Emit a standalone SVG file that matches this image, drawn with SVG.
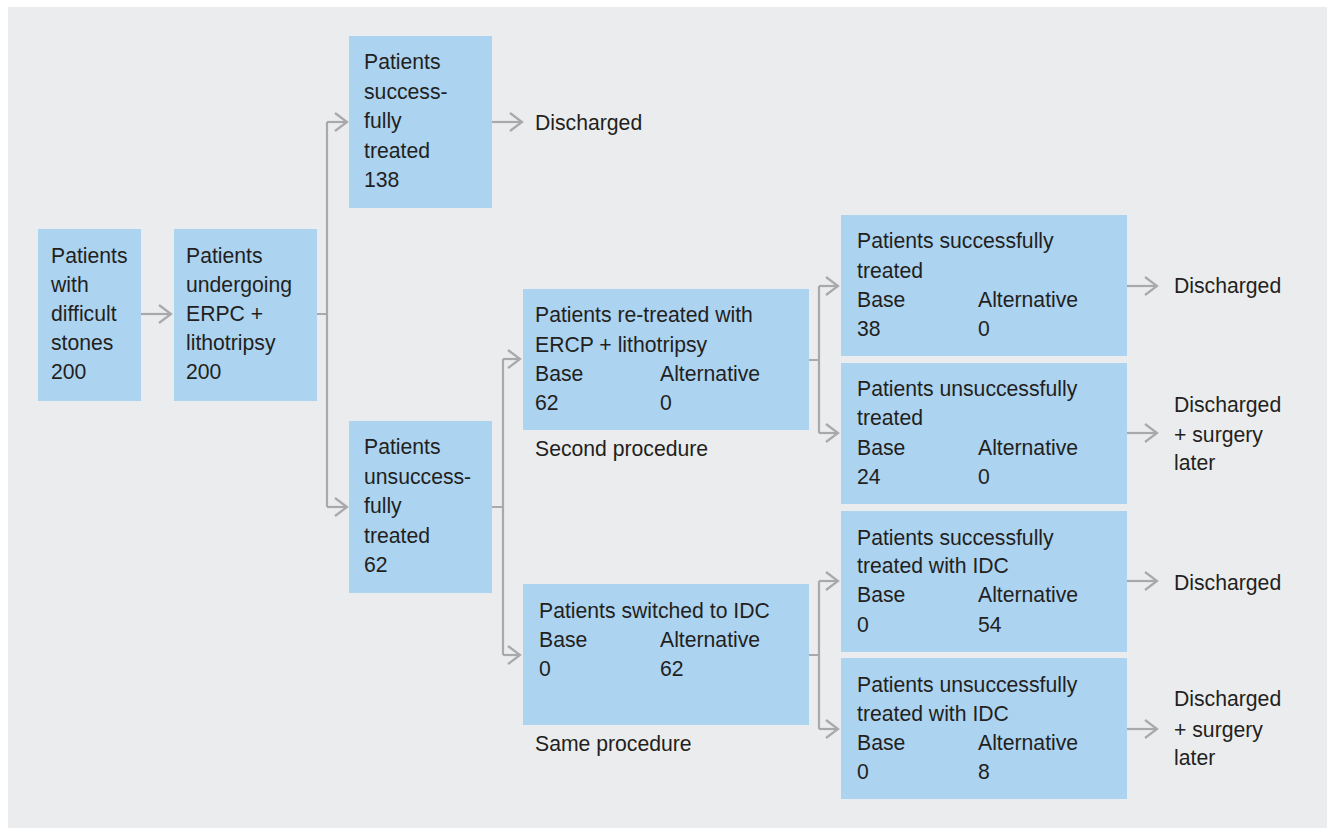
<svg xmlns="http://www.w3.org/2000/svg" width="1327" height="828" viewBox="0 0 1327 828">
<defs>
<style>
.box{fill:#acd3f0;}
text{font-family:"Liberation Sans",Arial,sans-serif;font-size:21.2px;fill:#231f20;}
.c{fill:none;stroke:#a7a9ac;stroke-width:2.2;}
.a{marker-end:url(#ah);}
</style>
<marker id="ah" markerUnits="userSpaceOnUse" viewBox="0 0 16 22" markerWidth="16" markerHeight="22" refX="14" refY="11" orient="auto">
<path d="M2,2 L14,11 L2,20" fill="none" stroke="#a7a9ac" stroke-width="2.2"/>
</marker>
</defs>
<rect x="0" y="0" width="1327" height="828" fill="#ffffff"/>
<rect x="8" y="7" width="1319" height="821" fill="#ebeced"/>

<g id="connectors">
<path class="c a" d="M141,314 H171"/>
<path class="c" d="M317,314 H327 M327,122 V507"/>
<path class="c a" d="M327,122 H347"/>
<path class="c a" d="M327,507 H347"/>
<path class="c a" d="M492,122 H522"/>
<path class="c" d="M492,507 H503 M503,359 V655"/>
<path class="c a" d="M503,359 H520"/>
<path class="c a" d="M503,655 H520"/>
<path class="c" d="M809,360 H819 M819,286 V433"/>
<path class="c a" d="M819,286 H838"/>
<path class="c a" d="M819,433 H838"/>
<path class="c" d="M809,655 H819 M819,581 V729"/>
<path class="c a" d="M819,581 H838"/>
<path class="c a" d="M819,729 H838"/>
<path class="c a" d="M1127,286 H1157"/>
<path class="c a" d="M1127,433 H1157"/>
<path class="c a" d="M1127,581 H1157"/>
<path class="c a" d="M1127,729 H1157"/>
</g>

<g id="n1">
<rect class="box" x="38" y="229" width="103" height="172"/>
<text x="51" y="263">Patients</text>
<text x="51" y="292">with</text>
<text x="51" y="321">difficult</text>
<text x="51" y="350">stones</text>
<text x="51" y="379">200</text>
</g>

<g id="n2">
<rect class="box" x="174" y="229" width="143" height="172"/>
<text x="186" y="263">Patients</text>
<text x="186" y="292">undergoing</text>
<text x="186" y="321">ERPC +</text>
<text x="186" y="350">lithotripsy</text>
<text x="186" y="379">200</text>
</g>

<g id="n3">
<rect class="box" x="349" y="36" width="143" height="172"/>
<text x="364" y="69">Patients</text>
<text x="364" y="98.5">success-</text>
<text x="364" y="128">fully</text>
<text x="364" y="157.5">treated</text>
<text x="364" y="187">138</text>
</g>

<g id="n3out">
<text x="535" y="130">Discharged</text>
</g>

<g id="n4">
<rect class="box" x="349" y="421" width="143" height="172"/>
<text x="364" y="454">Patients</text>
<text x="364" y="483.5">unsuccess-</text>
<text x="364" y="513">fully</text>
<text x="364" y="542.5">treated</text>
<text x="364" y="572">62</text>
</g>

<g id="n5">
<rect class="box" x="523" y="289" width="286" height="141"/>
<text x="535" y="322">Patients re-treated with</text>
<text x="535" y="351.5">ERCP + lithotripsy</text>
<text x="535" y="380.5">Base</text>
<text x="660" y="380.5">Alternative</text>
<text x="535" y="409.5">62</text>
<text x="660" y="409.5">0</text>
<text x="535" y="455.5">Second procedure</text>
</g>

<g id="n6">
<rect class="box" x="523" y="584" width="286" height="141"/>
<text x="539" y="618">Patients switched to IDC</text>
<text x="539" y="647">Base</text>
<text x="660" y="647">Alternative</text>
<text x="539" y="676">0</text>
<text x="660" y="676">62</text>
<text x="535" y="751">Same procedure</text>
</g>

<g id="n7">
<rect class="box" x="841" y="215" width="286" height="141"/>
<text x="857" y="248">Patients successfully</text>
<text x="857" y="277.5">treated</text>
<text x="857" y="307">Base</text>
<text x="978" y="307">Alternative</text>
<text x="857" y="336">38</text>
<text x="978" y="336">0</text>
</g>

<g id="n7out">
<text x="1174" y="292.5">Discharged</text>
</g>

<g id="n8">
<rect class="box" x="841" y="363" width="286" height="141"/>
<text x="857" y="396">Patients unsuccessfully</text>
<text x="857" y="425">treated</text>
<text x="857" y="454.5">Base</text>
<text x="978" y="454.5">Alternative</text>
<text x="857" y="483.5">24</text>
<text x="978" y="483.5">0</text>
</g>

<g id="n8out">
<text x="1174" y="412">Discharged</text>
<text x="1174" y="441.5">+ surgery</text>
<text x="1174" y="470">later</text>
</g>

<g id="n9">
<rect class="box" x="841" y="511" width="286" height="141"/>
<text x="857" y="544.5">Patients successfully</text>
<text x="857" y="573">treated with IDC</text>
<text x="857" y="602">Base</text>
<text x="978" y="602">Alternative</text>
<text x="857" y="631.5">0</text>
<text x="978" y="631.5">54</text>
</g>

<g id="n9out">
<text x="1174" y="590">Discharged</text>
</g>

<g id="n10">
<rect class="box" x="841" y="658" width="286" height="141"/>
<text x="857" y="691.5">Patients unsuccessfully</text>
<text x="857" y="720.5">treated with IDC</text>
<text x="857" y="750">Base</text>
<text x="978" y="750">Alternative</text>
<text x="857" y="779">0</text>
<text x="978" y="779">8</text>
</g>

<g id="n10out">
<text x="1174" y="706">Discharged</text>
<text x="1174" y="736.5">+ surgery</text>
<text x="1174" y="765">later</text>
</g>
</svg>
